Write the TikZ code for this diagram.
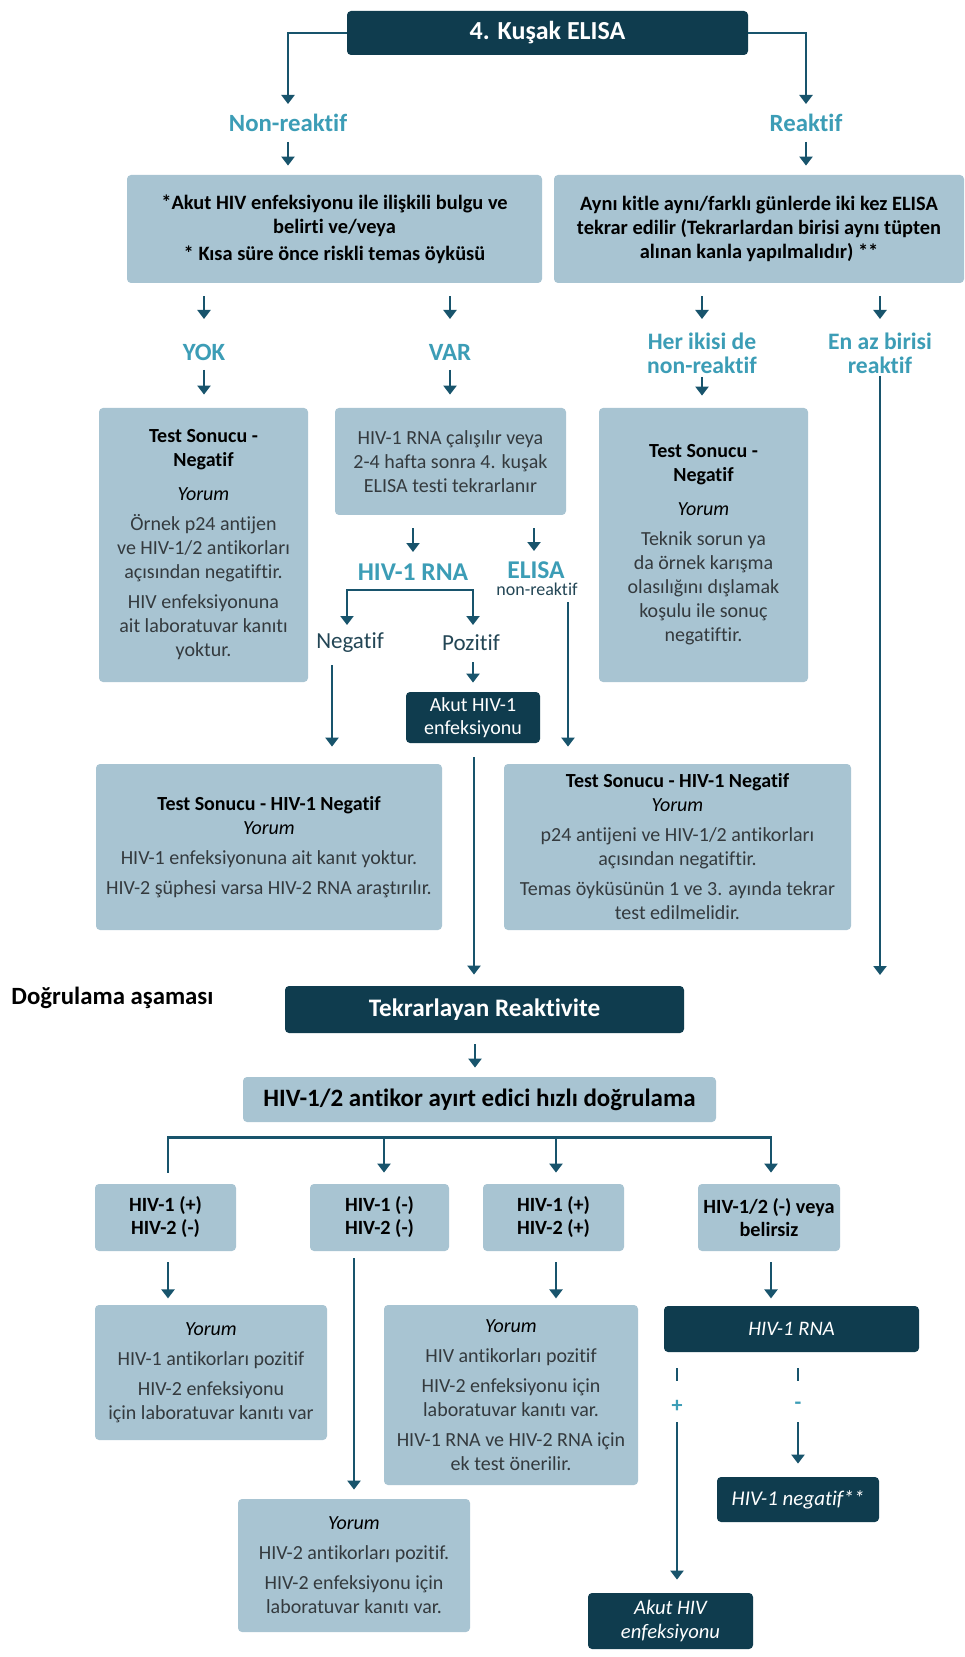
\documentclass[tikz,border=0pt]{standalone}
\usepackage{fontspec}
\setmainfont[Ligatures=NoCommon]{Carlito}
\usetikzlibrary{arrows.meta,calc}
\definecolor{dk}{RGB}{15,60,78}
\definecolor{lt}{RGB}{168,196,210}
\definecolor{lbl}{RGB}{60,157,182}
\definecolor{lnc}{RGB}{24,84,108}
\definecolor{txt}{RGB}{52,58,62}
\definecolor{lab2}{RGB}{35,70,85}
\newcommand\hb[1]{{\color{black}\bfseries #1}}
\newcommand\yo{{\color{black}\itshape Yorum}}
\begin{document}
\begin{tikzpicture}[x=0.5pt,y=-0.5pt,
 box/.style={rounded corners=2pt, align=center, inner sep=0pt, font=\fontsize{10}{12}\selectfont},
 lightbox/.style={box, fill=lt, text=txt},
 darkbox/.style={box, fill=dk, text=white},
 lab/.style={text=lbl, font=\fontsize{12.4}{10.2}\selectfont\bfseries, align=center, inner sep=1pt},
 lab2l/.style={lab, font=\fontsize{11.8}{12}\selectfont\bfseries},
 arr/.style={draw=lnc, line width=1.3pt, -{Triangle[length=4.5pt,width=6.5pt]}},
 ln/.style={draw=lnc, line width=1.3pt},
]
\fill[white] (0,0) rectangle (964,1657);
\path[use as bounding box] (0,0) rectangle (964,1657);

% ---------- top part ----------
\node[darkbox, minimum width=200.5pt, minimum height=22pt, font=\fontsize{13}{14}\selectfont\bfseries] (top) at (547.5,33) {4. Kuşak ELISA};
\node[lab] (nonreak) at (288,123) {Non-reaktif};
\node[lab] (reak) at (806,123) {Reaktif};

\node[lightbox, text=black, minimum width=207.5pt, minimum height=54pt, font=\fontsize{10.2}{12}\selectfont\bfseries] (boxA) at (334.5,229)
 {*Akut HIV enfeksiyonu ile ilişkili bulgu ve\\belirti ve/veya\\[1.5pt]{*} Kısa süre önce riskli temas öyküsü};
\node[lightbox, text=black, minimum width=205pt, minimum height=54pt, font=\fontsize{10.2}{12}\selectfont\bfseries] (boxB) at (759,229)
 {Aynı kitle aynı/farklı günlerde iki kez ELISA\\tekrar edilir (Tekrarlardan birisi aynı tüpten\\alınan kanla yapılmalıdır) **};

\node[lab] (yok) at (204,352) {YOK};
\node[lab] (var) at (450,352) {VAR};
\node[lab2l] (her) at (702,353) {Her ikisi de\\non-reaktif};
\node[lab2l] (enaz) at (880,353) {En az birisi\\reaktif};

\node[lightbox, minimum width=104.5pt, minimum height=137pt] (boxC) at (203.5,545)
 {\hb{Test Sonucu -}\\\hb{Negatif}\\[5pt]\yo\\[3pt]Örnek p24 antijen\\ve HIV-1/2 antikorları\\açısından negatiftir.\\[3pt]HIV enfeksiyonuna\\ait laboratuvar kanıtı\\yoktur.};
\node[lightbox, minimum width=115.5pt, minimum height=53.5pt] (boxD) at (450.5,461.5)
 {HIV-1 RNA çalışılır veya\\2-4 hafta sonra 4. kuşak\\ELISA testi tekrarlanır};
\node[lightbox, minimum width=104.5pt, minimum height=137pt] (boxE) at (703.5,545)
 {\hb{Test Sonucu -}\\\hb{Negatif}\\[5pt]\yo\\[3pt]Teknik sorun ya\\da örnek karışma\\olasılığını dışlamak\\koşulu ile sonuç\\negatiftir.};

\node[lab, font=\fontsize{12.8}{12}\selectfont\bfseries] (hivrna) at (413,572) {HIV-1 RNA};
\node[lab, font=\fontsize{12.8}{12}\selectfont\bfseries] (elisa) at (536,570) {ELISA};
\node[font=\fontsize{9}{9}\selectfont, text=lab2, inner sep=1pt] (nonr) at (537,589) {non-reaktif};
\node[font=\fontsize{11.5}{11}\selectfont, text=lab2, inner sep=1pt] (neglab) at (350,643) {Negatif};
\node[font=\fontsize{11.5}{11}\selectfont, text=lab2, inner sep=1pt] (pozlab) at (471,643) {Pozitif};

\node[darkbox, minimum width=67pt, minimum height=25.5pt, font=\fontsize{10}{11.5}\selectfont] (akut1) at (473,717.5) {Akut HIV-1\\enfeksiyonu};

\node[lightbox, minimum width=173pt, minimum height=83pt] (boxF) at (269,847)
 {\hb{Test Sonucu - HIV-1 Negatif}\\\yo\\[3pt]HIV-1 enfeksiyonuna ait kanıt yoktur.\\[3pt]HIV-2 şüphesi varsa HIV-2 RNA araştırılır.};
\node[lightbox, minimum width=173.5pt, minimum height=83pt] (boxG) at (677.5,847)
 {\hb{Test Sonucu - HIV-1 Negatif}\\\yo\\[3pt]p24 antijeni ve HIV-1/2 antikorları\\açısından negatiftir.\\[3pt]Temas öyküsünün 1 ve 3. ayında tekrar\\test edilmelidir.};

% ---------- confirmation part ----------
\node[anchor=west, inner sep=0pt, font=\fontsize{12.4}{13}\selectfont\bfseries] (dog) at (11,998) {Doğrulama aşaması};
\node[darkbox, minimum width=199.5pt, minimum height=23.5pt, font=\fontsize{12.6}{14}\selectfont\bfseries] (tekrar) at (484.5,1009.5) {Tekrarlayan Reaktivite};
\node[lightbox, text=black, minimum width=236.5pt, minimum height=22.5pt, font=\fontsize{12.5}{14}\selectfont\bfseries] (antikor) at (479.5,1099.5) {HIV-1/2 antikor ayırt edici hızlı doğrulama};

\node[lightbox, text=black, minimum width=70.5pt, minimum height=33.5pt, font=\fontsize{10.1}{11.5}\selectfont\bfseries] (H1) at (165.5,1217.5) {HIV-1 (+)\\HIV-2 (-)};
\node[lightbox, text=black, minimum width=69.5pt, minimum height=33.5pt, font=\fontsize{10.1}{11.5}\selectfont\bfseries] (H2) at (379.5,1217.5) {HIV-1 (-)\\HIV-2 (-)};
\node[lightbox, text=black, minimum width=70.5pt, minimum height=33.5pt, font=\fontsize{10.1}{11.5}\selectfont\bfseries] (H3) at (553.5,1217.5) {HIV-1 (+)\\HIV-2 (+)};
\node[lightbox, text=black, minimum width=71pt, minimum height=33.5pt, font=\fontsize{10.1}{11.5}\selectfont\bfseries] (H4) at (769,1217.5) {HIV-1/2 (-) veya\\belirsiz};

\node[lightbox, minimum width=116pt, minimum height=67.5pt] (Y1) at (211,1372.5)
 {\yo\\[3pt]HIV-1 antikorları pozitif\\[3pt]HIV-2 enfeksiyonu\\için laboratuvar kanıtı var};
\node[lightbox, minimum width=127pt, minimum height=90pt] (Y3) at (511,1395)
 {\yo\\[3pt]HIV antikorları pozitif\\[3pt]HIV-2 enfeksiyonu için\\laboratuvar kanıtı var.\\[3pt]HIV-1 RNA ve HIV-2 RNA için\\ek test önerilir.};
\node[lightbox, minimum width=116pt, minimum height=66.5pt] (Y2) at (354,1565.5)
 {\yo\\[3pt]HIV-2 antikorları pozitif.\\[3pt]HIV-2 enfeksiyonu için\\laboratuvar kanıtı var.};

\node[darkbox, minimum width=127.5pt, minimum height=23pt, font=\fontsize{10.3}{11}\selectfont\itshape] (R) at (791.5,1329) {HIV-1 RNA};
\node[darkbox, minimum width=81pt, minimum height=22.5pt, font=\fontsize{10.5}{11}\selectfont\itshape] (neg) at (798,1499.5) {HIV-1 negatif**};
\node[darkbox, minimum width=82.5pt, minimum height=28pt, font=\fontsize{10.3}{12}\selectfont\itshape] (akut2) at (670.5,1621) {Akut HIV\\enfeksiyonu};

\node[text=lbl, font=\fontsize{11}{11}\selectfont\bfseries, inner sep=1pt] (plus) at (677,1406) {+};
\node[text=lbl, font=\fontsize{11}{11}\selectfont\bfseries, inner sep=1pt] (minus) at (798,1406) {-};

% ---------- connectors ----------
\draw[arr] (top.west) -| ($(nonreak.center)+(0,-19)$);
\draw[arr] (top.east) -| ($(reak.center)+(0,-19)$);
\draw[arr] ($(nonreak.center)+(0,19)$) -- ($(nonreak.center |- boxA.north)+(0,-9)$);
\draw[arr] ($(reak.center)+(0,19)$) -- ($(reak.center |- boxB.north)+(0,-9)$);

\draw[arr] ($(yok.center |- boxA.south)+(0,13)$) -- ($(yok.center)+(0,-33)$);
\draw[arr] ($(var.center |- boxA.south)+(0,13)$) -- ($(var.center)+(0,-33)$);
\draw[arr] ($(her.center |- boxB.south)+(0,13)$) -- ($(her.center)+(0,-34)$);
\draw[arr] ($(enaz.center |- boxB.south)+(0,13)$) -- ($(enaz.center)+(0,-34)$);

\draw[arr] ($(yok.center)+(0,18)$) -- ($(yok.center |- boxC.north)+(0,-13)$);
\draw[arr] ($(var.center)+(0,18)$) -- ($(var.center |- boxD.north)+(0,-13)$);
\draw[arr] ($(her.center)+(0,24)$) -- ($(her.center |- boxE.north)+(0,-12)$);
\coordinate (enazend) at (880,975);
\draw[arr] ($(enaz.center)+(0,23)$) -- (enazend);

\draw[arr] ($(hivrna.center |- boxD.south)+(0,13)$) -- ($(hivrna.center)+(0,-20)$);
\draw[arr] ($(elisa.center |- boxD.south)+(-2,13)$) -- ($(elisa.center)+(-2,-19)$);
\draw[arr] ($(hivrna.center)+(0,18)$) -| ($(neglab.center)+(-3,-18)$);
\draw[arr] ($(hivrna.center)+(0,18)$) -| ($(pozlab.center)+(2,-18)$);
\draw[arr] ($(akut1.north |- pozlab.center)+(0,19)$) -- ($(akut1.north)+(0,-9)$);
\draw[arr] ($(neglab.center)+(-18,22)$) -- ($(neglab.center |- boxF.north)+(-18,-17)$);
\draw[arr] ($(nonr.center)+(31,13)$) -- ($(nonr.center |- boxG.north)+(31,-17)$);
\draw[arr] ($(akut1.south)+(1,14)$) -- ($(akut1.south |- tekrar.north)+(1,-11)$);
\draw[arr] ($(akut1.south |- tekrar.south)+(2,11)$) -- ($(akut1.south |- antikor.north)+(2,-9)$);

\draw[arr] ($(H1.north)+(2.5,-11)$) |- ($(H4.north)+(2,-46)$) -- ($(H4.north)+(2,-11)$);
\draw[arr] ($(H2.north)+(4.5,-46)$) -- ($(H2.north)+(4.5,-11)$);
\draw[arr] ($(H3.north)+(2.5,-46)$) -- ($(H3.north)+(2.5,-11)$);

\draw[arr] ($(H1.south)+(2.5,11)$) -- ($(H1.south)+(2.5,47)$);
\draw[arr] ($(H2.south)+(-25.5,7)$) -- ($(H2.south |- Y2.north)+(-25.5,-9)$);
\draw[arr] ($(H3.south)+(2.5,11)$) -- ($(H3.south)+(2.5,47)$);
\draw[arr] ($(H4.south)+(2,11)$) -- ($(H4.south)+(2,47)$);

\draw[ln] ($(plus.center |- R.south)+(0,16)$) -- ($(plus.center)+(0,-25)$);
\draw[arr] ($(plus.center)+(0,16)$) -- ($(plus.center |- akut2.north)+(0,-13)$);
\draw[ln] ($(minus.center |- R.south)+(0,16)$) -- ($(minus.center)+(0,-25)$);
\draw[arr] ($(minus.center)+(0,16)$) -- ($(minus.center |- neg.north)+(0,-13)$);
\end{tikzpicture}
\end{document}
